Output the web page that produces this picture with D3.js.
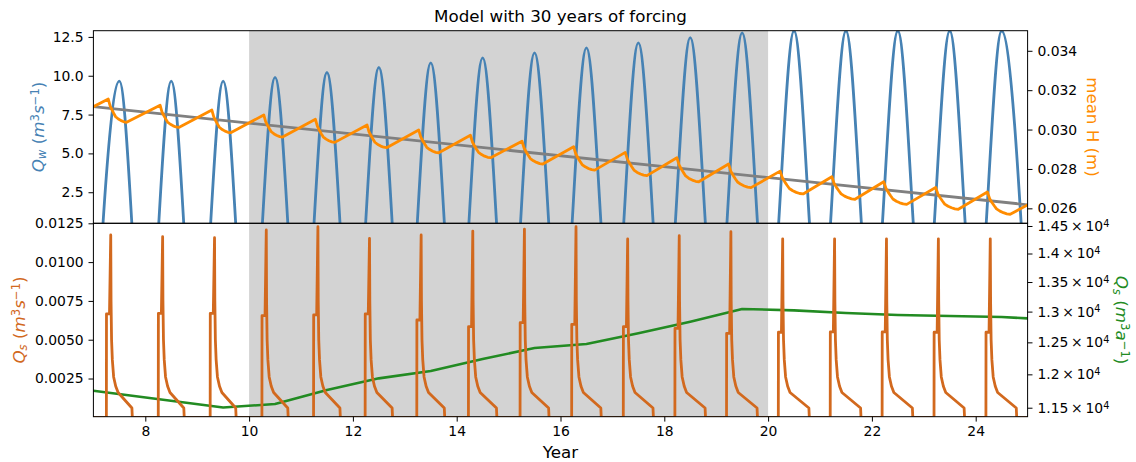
<!DOCTYPE html>
<html>
<head>
<meta charset="utf-8">
<script src="https://cdn.jsdelivr.net/npm/d3@7"></script>
<style>
  body { margin: 0; background: #fff; }
  svg { display: block; font-family: "DejaVu Sans", sans-serif; }
</style>
</head>
<body>
<svg id="chart" width="1136" height="462"></svg>
<script>
// ---- data ----
const yearDomain = [7, 25]
const forcingSpan = [10, 20]
const yearTicks = [8, 10, 12, 14, 16, 18, 20, 22, 24]

// Q_w humps: peak at mid-year, troughs (below the axis) at whole years
const qwPeakYears = [7.5, 8.5, 9.5, 10.5, 11.5, 12.5, 13.5, 14.5, 15.5, 16.5, 17.5, 18.5, 19.5, 20.5, 21.5, 22.5, 23.5, 24.5]
const qwPeaks = [9.65, 9.65, 9.65, 9.89, 10.21, 10.53, 10.83, 11.15, 11.47, 11.79, 12.11, 12.46, 12.76, 12.88, 12.88, 12.88, 12.88, 12.88]
const qwTroughYears = [7, 8, 9, 10, 11, 12, 13, 14, 15, 16, 17, 18, 19, 20, 21, 22, 23, 24, 25]
const qwTroughs = [-9.75, -9.75, -9.75, -9.63, -9.35, -9.03, -8.72, -8.41, -8.09, -7.77, -7.45, -7.12, -6.79, -6.58, -6.52, -6.52, -6.52, -6.52, -6.52]
const qwTicks = [2.5, 5, 7.5, 10, 12.5]

// mean H sawtooth
const hStart = [7, 0.03116]
const hEnd = [25, 0.02617]
const hPeakYears = [7.287, 8.285, 9.283, 10.283, 11.278, 12.273, 13.268, 14.264, 15.258, 16.253, 17.248, 18.243, 19.238, 20.232, 21.228, 22.228, 23.228, 24.225]
const hPeaks = [0.03155, 0.03124, 0.03099, 0.03074, 0.03052, 0.03023, 0.02998, 0.02971, 0.02941, 0.02913, 0.02884, 0.02857, 0.02825, 0.02789, 0.02760, 0.02735, 0.02706, 0.02683]
const hMinYears = [7.64, 8.645, 9.645, 10.645, 11.65, 12.65, 13.655, 14.655, 15.66, 16.66, 17.665, 18.665, 19.67, 20.675, 21.675, 22.67, 23.665, 24.665]
const hMins = [0.03037, 0.03011, 0.02984, 0.02962, 0.02935, 0.02908, 0.02882, 0.02857, 0.02825, 0.02794, 0.02766, 0.02735, 0.02705, 0.02673, 0.02646, 0.02620, 0.02595, 0.02570]
// shape of the drop from a peak to the following minimum
const hDropTime = [0, 0.1, 0.2, 0.3, 0.4, 0.55, 0.7, 0.85, 1]
const hDropFrac = [0, 0.3, 0.47, 0.62, 0.76, 0.86, 0.93, 0.98, 1]
const hTrendYears = [7, 25]
const hTrend = [0.03116, 0.02618]
const hTicks = [0.026, 0.028, 0.030, 0.032, 0.034]

// Q_s (m3/s) pulses, one per year
const qsOnset = [7.25, 8.25, 9.25, 10.247, 11.242, 12.236, 13.231, 14.226, 15.221, 16.215, 17.21, 18.204, 19.199, 20.197, 21.197, 22.197, 23.197, 24.197]
const qsEnd = [7.75, 8.75, 9.75, 10.753, 11.758, 12.764, 13.769, 14.774, 15.779, 16.785, 17.79, 18.794, 19.795, 20.794, 21.79, 22.788, 23.785, 24.79]
const qsShoulder = [0.00666, 0.0067, 0.0067, 0.00655, 0.0066, 0.00666, 0.00627, 0.00584, 0.0061, 0.00599, 0.00584, 0.00573, 0.00541, 0.00548, 0.0055, 0.0055, 0.00548, 0.00548]
const qsPeaks = [0.01175, 0.01164, 0.01157, 0.01207, 0.01228, 0.01153, 0.01175, 0.0120, 0.01213, 0.01228, 0.01149, 0.0117, 0.01196, 0.0115, 0.0115, 0.0115, 0.0115, 0.0115]
const qsDecayTime = [0.09, 0.1, 0.115, 0.14, 0.18, 0.226]
const qsDecayValue = [0.0075, 0.0050, 0.0037, 0.0026, 0.0020, 0.0016]
const qsTailEnd = 0.0006
const qsTicks = [0.0025, 0.005, 0.0075, 0.01, 0.0125]

// Q_s (m3/a), log axis
const qsaYears = [7, 9.5, 10.5, 11.5, 12.5, 13.5, 14.5, 15.5, 16.5, 17.5, 18.5, 19.5, 20.5, 21.5, 22.5, 23.5, 24.5, 25]
const qsaValues = [11752, 11503, 11554, 11763, 11939, 12051, 12237, 12410, 12473, 12645, 12833, 13043, 13021, 12977, 12943, 12927, 12910, 12889]
const qsaTicks = [11500, 12000, 12500, 13000, 13500, 14000, 14500]

// ---- layout ----
const L = 93.4, R = 1027.6, T = 30.7, M = 223.3, B = 416.7
const svg = d3.select("#chart")

const x = d3.scaleLinear(yearDomain, [L, R])
const yQw = d3.scaleLinear([0.5, 12.9], [M, T])
const yH = d3.scaleLinear([0.02524, 0.03502], [M, T])
const yQs = d3.scaleLinear([0.00004, 0.0125], [B, M])
const yQsa = d3.scaleLog([11369, 14550], [B, M])

const defs = svg.append("defs")
defs.append("clipPath").attr("id", "clipTop")
  .append("rect").attr("x", L).attr("y", T).attr("width", R - L).attr("height", M - T)
defs.append("clipPath").attr("id", "clipBot")
  .append("rect").attr("x", L).attr("y", M).attr("width", R - L).attr("height", B - M)

// forcing shading in both panels
svg.append("rect").attr("x", x(forcingSpan[0])).attr("y", T)
  .attr("width", x(forcingSpan[1]) - x(forcingSpan[0])).attr("height", B - T)
  .attr("fill", "#d3d3d3")

// build series
const qwPts = []
qwTroughYears.forEach((yr, i) => {
  qwPts.push([yr, qwTroughs[i]])
  if (i < qwPeaks.length) qwPts.push([qwPeakYears[i], qwPeaks[i]])
})

const hPts = [hStart]
hPeaks.forEach((p, k) => {
  const t0 = hPeakYears[k], t1 = hMinYears[k], m = hMins[k]
  hDropTime.forEach((f, j) => hPts.push([t0 + f * (t1 - t0), p - hDropFrac[j] * (p - m)]))
})
hPts.push(hEnd)

const qsPts = [[yearDomain[0], 0]]
qsOnset.forEach((on, k) => {
  qsPts.push([on, 0], [on + 0.002, qsShoulder[k]], [on + 0.06, qsShoulder[k]], [on + 0.084, qsPeaks[k]])
  qsDecayTime.forEach((dt, j) => qsPts.push([on + dt, qsDecayValue[j]]))
  qsPts.push([qsEnd[k] - 0.008, qsTailEnd], [qsEnd[k], 0])
})
qsPts.push([yearDomain[1], 0])

const lineStyle = (sel, color, w) => sel.attr("fill", "none").attr("stroke", color)
  .attr("stroke-width", w).attr("stroke-linejoin", "round").attr("stroke-linecap", "round")

// top panel
const topPanel = svg.append("g").attr("clip-path", "url(#clipTop)")
topPanel.append("path")
  .attr("d", d3.line().x(d => x(d[0])).y(d => yQw(d[1])).curve(d3.curveMonotoneX)(qwPts))
  .call(lineStyle, "#4682b4", 2.8)
topPanel.append("path")
  .attr("d", d3.line().x(d => x(d[0])).y(d => yH(d[1]))(hTrendYears.map((t, i) => [t, hTrend[i]])))
  .call(lineStyle, "#808080", 2.8)
topPanel.append("path")
  .attr("d", d3.line().x(d => x(d[0])).y(d => yH(d[1]))(hPts))
  .call(lineStyle, "#ff8c00", 2.8)

// bottom panel
const botPanel = svg.append("g").attr("clip-path", "url(#clipBot)")
botPanel.append("path")
  .attr("d", d3.line().x(d => x(d[0])).y(d => yQsa(d[1]))(qsaYears.map((t, i) => [t, qsaValues[i]])))
  .call(lineStyle, "#228b22", 2.6)
botPanel.append("path")
  .attr("d", d3.line().x(d => x(d[0])).y(d => yQs(d[1]))(qsPts))
  .call(lineStyle, "#d2691e", 2.8)

// frames
svg.append("rect").attr("x", L).attr("y", T).attr("width", R - L).attr("height", M - T)
  .attr("fill", "none").attr("stroke", "#000").attr("stroke-width", 1)
svg.append("rect").attr("x", L).attr("y", M).attr("width", R - L).attr("height", B - M)
  .attr("fill", "none").attr("stroke", "#000").attr("stroke-width", 1)

// axes
const styleAxis = g => {
  g.select(".domain").remove()
  g.attr("font-family", "DejaVu Sans").attr("font-size", 13.9)
  g.selectAll(".tick line").attr("stroke", "#000").attr("stroke-width", 1)
  g.selectAll(".tick text").attr("fill", "#000")
}
svg.append("g").attr("transform", `translate(${L},0)`)
  .call(d3.axisLeft(yQw).tickValues(qwTicks).tickSize(4.9).tickPadding(4.9).tickFormat(d3.format(".1f")))
  .call(styleAxis)
svg.append("g").attr("transform", `translate(${R},0)`)
  .call(d3.axisRight(yH).tickValues(hTicks).tickSize(4.9).tickPadding(4.9).tickFormat(d3.format(".3f")))
  .call(styleAxis)
svg.append("g").attr("transform", `translate(${L},0)`)
  .call(d3.axisLeft(yQs).tickValues(qsTicks).tickSize(4.9).tickPadding(4.9).tickFormat(d3.format(".4f")))
  .call(styleAxis)
const qsaAxis = svg.append("g").attr("transform", `translate(${R},0)`)
  .call(d3.axisRight(yQsa).tickValues(qsaTicks).tickSize(4.9).tickPadding(4.9))
  .call(styleAxis)
qsaAxis.selectAll(".tick text").each(function (d) {
  const t = d3.select(this).text("")
  t.append("tspan").text(String(+(d / 1e4).toFixed(2)) + "\u2009\u00d7\u200910")
  t.append("tspan").attr("dy", "-0.42em").attr("font-size", "0.7em").text("4")
})
svg.append("g").attr("transform", `translate(0,${B})`)
  .call(d3.axisBottom(x).tickValues(yearTicks).tickSize(4.9).tickPadding(4.9).tickFormat(d3.format("d")))
  .call(styleAxis)

// mathtext-like labels
const mathLabel = (tx, ty, rot, color, parts) => {
  const t = svg.append("text")
    .attr("transform", `translate(${tx},${ty}) rotate(${rot})`)
    .attr("text-anchor", "middle").attr("font-size", 16.7).attr("fill", color)
  let shift = 0
  parts.forEach(p => {
    const target = p.sup ? -5 : p.sub ? 2.6 : 0
    const s = t.append("tspan").text(p.t).attr("dy", target - shift)
    if (p.it) s.attr("font-style", "italic")
    if (p.sup || p.sub) s.attr("font-size", 11.7)
    shift = target
  })
}
mathLabel(43.5, 127, -90, "#4682b4", [
  { t: "Q", it: true }, { t: "w", it: true, sub: true }, { t: " (" }, { t: "m", it: true },
  { t: "3", sup: true }, { t: "s", it: true }, { t: "\u22121", sup: true }, { t: ")" }])
mathLabel(24.8, 320, -90, "#d2691e", [
  { t: "Q", it: true }, { t: "s", it: true, sub: true }, { t: " (" }, { t: "m", it: true },
  { t: "3", sup: true }, { t: "s", it: true }, { t: "\u22121", sup: true }, { t: ")" }])
mathLabel(1115.5, 320, 90, "#228b22", [
  { t: "Q", it: true }, { t: "s", it: true, sub: true }, { t: " (" }, { t: "m", it: true },
  { t: "3", sup: true }, { t: "a", it: true }, { t: "\u22121", sup: true }, { t: ")" }])

svg.append("text").attr("transform", `translate(1087,127) rotate(90)`)
  .attr("text-anchor", "middle").attr("font-size", 16.7).attr("fill", "#ff8c00")
  .text("mean H (m)")

svg.append("text").attr("x", (L + R) / 2).attr("y", 457.5)
  .attr("text-anchor", "middle").attr("font-size", 16.7).text("Year")
svg.append("text").attr("x", (L + R) / 2).attr("y", 22)
  .attr("text-anchor", "middle").attr("font-size", 16.7).text("Model with 30 years of forcing")
</script>
</body>
</html>
